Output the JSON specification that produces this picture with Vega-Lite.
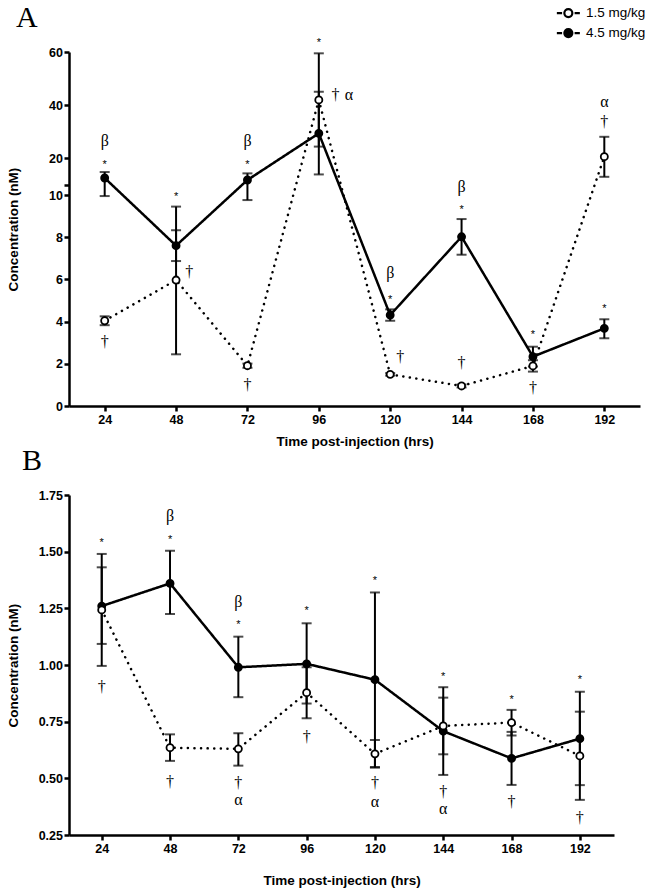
{
  "$schema": "https://vega.github.io/schema/vega-lite/v6.json",
  "background": "white",
  "padding": {"left": 6, "top": 2, "right": 3, "bottom": 3},
  "bounds": "flush",
  "spacing": 89,
  "resolve": {"scale": {"fill": "independent", "strokeDash": "independent"}, "legend": {"fill": "independent", "strokeDash": "independent"}},
  "config": {
    "font": "Liberation Sans",
    "view": {"stroke": null},
    "axis": {
      "domainColor": "black", "domainWidth": 2.5, "tickColor": "black", "tickWidth": 2.5, "tickSize": 5,
      "labelFont": "Liberation Sans", "labelFontWeight": "bold", "labelFontSize": 12.5, "labelColor": "black",
      "titleFont": "Liberation Sans", "titleFontWeight": "bold", "titleFontSize": 13.5, "titleColor": "black",
      "grid": false, "zindex": 0
    }
  },
  "datasets": {
    "A": [
      {"time": 24, "dose": "4.5 mg/kg", "value": 12.45, "lo": 9.95, "hi": 14.7},
      {"time": 48, "dose": "4.5 mg/kg", "value": 7.6, "lo": 6.87, "hi": 8.33},
      {"time": 72, "dose": "4.5 mg/kg", "value": 11.7, "lo": 9.76, "hi": 14.2},
      {"time": 96, "dose": "4.5 mg/kg", "value": 29.3, "lo": 13.8, "hi": 45.0},
      {"time": 120, "dose": "4.5 mg/kg", "value": 4.31, "lo": 4.04, "hi": 4.58},
      {"time": 144, "dose": "4.5 mg/kg", "value": 8.02, "lo": 7.17, "hi": 8.86},
      {"time": 168, "dose": "4.5 mg/kg", "value": 2.34, "lo": 1.87, "hi": 2.81},
      {"time": 192, "dose": "4.5 mg/kg", "value": 3.68, "lo": 3.21, "hi": 4.11},
      {"time": 24, "dose": "1.5 mg/kg", "value": 4.04, "lo": 3.83, "hi": 4.25},
      {"time": 48, "dose": "1.5 mg/kg", "value": 5.97, "lo": 2.45, "hi": 9.45},
      {"time": 72, "dose": "1.5 mg/kg", "value": 1.91, "lo": 1.81, "hi": 2.01},
      {"time": 96, "dose": "1.5 mg/kg", "value": 41.9, "lo": 24.3, "hi": 59.5},
      {"time": 120, "dose": "1.5 mg/kg", "value": 1.5, "lo": 1.44, "hi": 1.56},
      {"time": 144, "dose": "1.5 mg/kg", "value": 0.95, "lo": 0.88, "hi": 1.02},
      {"time": 168, "dose": "1.5 mg/kg", "value": 1.9, "lo": 1.63, "hi": 2.17},
      {"time": 192, "dose": "1.5 mg/kg", "value": 20.5, "lo": 12.9, "hi": 28.0}
    ],
    "annA": [
      {"time": 24, "y": 18.6, "label": "*"},
      {"time": 48, "y": 10.0001, "label": "*"},
      {"time": 72, "y": 18.6, "label": "*"},
      {"time": 96, "y": 64.5, "label": "*"},
      {"time": 120, "y": 5.17, "label": "*"},
      {"time": 144, "y": 9.45, "label": "*"},
      {"time": 168, "y": 3.52, "label": "*"},
      {"time": 192, "y": 4.74, "label": "*"},
      {"time": 24, "y": 26.5, "label": "β"},
      {"time": 72, "y": 26.5, "label": "β"},
      {"time": 120, "y": 6.29, "label": "β"},
      {"time": 144, "y": 10.0008, "label": "β"},
      {"time": 24, "y": 3.05, "label": "†"},
      {"time": 52.4, "y": 6.36, "label": "†"},
      {"time": 72, "y": 1.0, "label": "†"},
      {"time": 101.6, "y": 43.8, "label": "†"},
      {"time": 123.4, "y": 2.34, "label": "†"},
      {"time": 144, "y": 2.04, "label": "†"},
      {"time": 168, "y": 0.85, "label": "†"},
      {"time": 192, "y": 33.7, "label": "†"},
      {"time": 106.1, "y": 43.8, "label": "α"},
      {"time": 192, "y": 41.3, "label": "α"}
    ],
    "B": [
      {"time": 24, "dose": "4.5 mg/kg", "value": 1.26, "lo": 1.093, "hi": 1.431},
      {"time": 48, "dose": "4.5 mg/kg", "value": 1.36, "lo": 1.225, "hi": 1.504},
      {"time": 72, "dose": "4.5 mg/kg", "value": 0.99, "lo": 0.858, "hi": 1.125},
      {"time": 96, "dose": "4.5 mg/kg", "value": 1.005, "lo": 0.83, "hi": 1.184},
      {"time": 120, "dose": "4.5 mg/kg", "value": 0.935, "lo": 0.55, "hi": 1.32},
      {"time": 144, "dose": "4.5 mg/kg", "value": 0.708, "lo": 0.515, "hi": 0.902},
      {"time": 168, "dose": "4.5 mg/kg", "value": 0.588, "lo": 0.471, "hi": 0.705},
      {"time": 192, "dose": "4.5 mg/kg", "value": 0.675, "lo": 0.47, "hi": 0.882},
      {"time": 24, "dose": "1.5 mg/kg", "value": 1.243, "lo": 0.996, "hi": 1.49},
      {"time": 48, "dose": "1.5 mg/kg", "value": 0.635, "lo": 0.577, "hi": 0.694},
      {"time": 72, "dose": "1.5 mg/kg", "value": 0.63, "lo": 0.556, "hi": 0.699},
      {"time": 96, "dose": "1.5 mg/kg", "value": 0.878, "lo": 0.765, "hi": 0.99},
      {"time": 120, "dose": "1.5 mg/kg", "value": 0.608, "lo": 0.547, "hi": 0.669},
      {"time": 144, "dose": "1.5 mg/kg", "value": 0.731, "lo": 0.606, "hi": 0.856},
      {"time": 168, "dose": "1.5 mg/kg", "value": 0.746, "lo": 0.689, "hi": 0.802},
      {"time": 192, "dose": "1.5 mg/kg", "value": 0.599, "lo": 0.405, "hi": 0.794}
    ],
    "annB": [
      {"time": 24, "y": 1.55, "label": "*"},
      {"time": 48, "y": 1.566, "label": "*"},
      {"time": 72, "y": 1.191, "label": "*"},
      {"time": 96, "y": 1.25, "label": "*"},
      {"time": 120, "y": 1.383, "label": "*"},
      {"time": 144, "y": 0.96, "label": "*"},
      {"time": 168, "y": 0.86, "label": "*"},
      {"time": 192, "y": 0.946, "label": "*"},
      {"time": 48, "y": 1.657, "label": "β"},
      {"time": 72, "y": 1.277, "label": "β"},
      {"time": 24, "y": 0.904, "label": "†"},
      {"time": 48, "y": 0.485, "label": "†"},
      {"time": 72, "y": 0.481, "label": "†"},
      {"time": 96, "y": 0.684, "label": "†"},
      {"time": 120, "y": 0.478, "label": "†"},
      {"time": 144, "y": 0.441, "label": "†"},
      {"time": 168, "y": 0.397, "label": "†"},
      {"time": 192, "y": 0.324, "label": "†"},
      {"time": 72, "y": 0.405, "label": "α"},
      {"time": 120, "y": 0.397, "label": "α"},
      {"time": 144, "y": 0.363, "label": "α"}
    ]
  },
  "vconcat": [
    {
      "width": 571,
      "height": 354,
      "title": {"text": "A", "anchor": "start", "frame": "group", "font": "Liberation Serif", "fontSize": 30, "fontWeight": "normal", "color": "black", "dx": -53, "baseline": "alphabetic", "offset": -50.6},
      "encoding": {
        "x": {"field": "time", "type": "quantitative", "scale": {"domain": [12, 204], "nice": false, "zero": false},
          "axis": {"values": [24, 48, 72, 96, 120, 144, 168, 192], "format": "d", "title": "Time post-injection (hrs)", "labelPadding": 2, "titleY": 39, "titleBaseline": "alphabetic"}},
        "y": {"type": "quantitative", "scale": {"domain": [0, 10, 10.001, 60], "range": [354, 143, 132.5, 0], "nice": false, "zero": false},
          "axis": {"values": [0, 2, 4, 6, 8, 10, 10.001, 20, 40, 60], "labelExpr": "datum.value > 10 && datum.value < 11 ? '' : format(datum.value, 'd')", "title": "Concentration (nM)", "labelPadding": 1.5, "titleX": -52, "titleBaseline": "alphabetic"}}
      },
      "layer": [
        {
          "data": {"name": "A"},
          "mark": {"type": "line", "color": "black", "strokeWidth": 2.5, "strokeCap": "round"},
          "encoding": {
            "y": {"field": "value"},
            "strokeDash": {"field": "dose", "type": "nominal", "scale": {"domain": ["4.5 mg/kg", "1.5 mg/kg"], "range": [[1, 0], [0.1, 6.5]]}, "legend": null}
          }
        },
        {
          "data": {"name": "A"},
          "mark": {"type": "rule", "color": "black", "strokeWidth": 2},
          "encoding": {"y": {"field": "lo"}, "y2": {"field": "hi"}}
        },
        {
          "data": {"name": "A"},
          "mark": {"type": "tick", "orient": "horizontal", "color": "black", "size": 10, "thickness": 2},
          "encoding": {"y": {"field": "lo"}}
        },
        {
          "data": {"name": "A"},
          "mark": {"type": "tick", "orient": "horizontal", "color": "black", "size": 10, "thickness": 2},
          "encoding": {"y": {"field": "hi"}}
        },
        {
          "data": {"values": [{}]},
          "mark": {"type": "rect", "fill": "white"},
          "encoding": {"x": {"datum": 9}, "x2": {"datum": 207}, "y": {"datum": 10.0002}, "y2": {"datum": 10.0008}}
        },
        {
          "data": {"name": "A"},
          "mark": {"type": "point", "shape": "circle", "filled": true, "stroke": "black", "strokeWidth": 1.8, "size": 50, "opacity": 1},
          "encoding": {
            "y": {"field": "value"},
            "fill": {"field": "dose", "type": "nominal", "scale": {"domain": ["1.5 mg/kg", "4.5 mg/kg"], "range": ["white", "black"]},
              "legend": {"title": null, "orient": "none", "direction": "vertical", "legendX": 492.6, "legendY": -45.7, "padding": 0,
                "symbolSize": 100, "rowPadding": 2, "labelOffset": 11,
                "symbolType": "M-2.3,0L-1.25,0M1.25,0L2.3,0M0.8,0A0.8,0.8,0,1,1,-0.8,0A0.8,0.8,0,1,1,0.8,0",
                "labelFont": "Liberation Sans", "labelFontSize": 13.5, "labelColor": "black",
                "symbolStrokeColor": "black", "symbolStrokeWidth": 2.2}}
          }
        },
        {
          "data": {"name": "annA"},
          "transform": [{"filter": "datum.label === '*'"}],
          "mark": {"type": "text", "font": "Liberation Sans", "fontSize": 11, "baseline": "middle", "align": "center", "dy": 3, "color": "black"},
          "encoding": {"y": {"field": "y"}, "text": {"field": "label"}}
        },
        {
          "data": {"name": "annA"},
          "transform": [{"filter": "datum.label !== '*'"}],
          "mark": {"type": "text", "font": "Liberation Serif", "fontSize": 16, "baseline": "middle", "align": "center", "color": "black"},
          "encoding": {"y": {"field": "y"}, "text": {"field": "label"}}
        }
      ]
    },
    {
      "width": 545,
      "height": 340,
      "title": {"text": "B", "anchor": "start", "frame": "group", "font": "Liberation Serif", "fontSize": 30, "fontWeight": "normal", "color": "black", "dx": -47, "baseline": "alphabetic", "offset": -11},
      "encoding": {
        "x": {"field": "time", "type": "quantitative", "scale": {"domain": [12.5, 204], "nice": false, "zero": false},
          "axis": {"values": [24, 48, 72, 96, 120, 144, 168, 192], "format": "d", "title": "Time post-injection (hrs)", "labelPadding": 2, "titleY": 49, "titleBaseline": "alphabetic"}},
        "y": {"type": "quantitative", "scale": {"domain": [0.25, 1.75], "nice": false, "zero": false},
          "axis": {"values": [0.25, 0.5, 0.75, 1.0, 1.25, 1.5, 1.75], "format": ".2f", "title": "Concentration (nM)", "labelPadding": 1.5, "titleX": -52, "titleBaseline": "alphabetic"}}
      },
      "layer": [
        {
          "data": {"name": "B"},
          "mark": {"type": "line", "color": "black", "strokeWidth": 2.5, "strokeCap": "round"},
          "encoding": {
            "y": {"field": "value"},
            "strokeDash": {"field": "dose", "type": "nominal", "scale": {"domain": ["4.5 mg/kg", "1.5 mg/kg"], "range": [[1, 0], [0.1, 6.5]]}, "legend": null}
          }
        },
        {
          "data": {"name": "B"},
          "mark": {"type": "rule", "color": "black", "strokeWidth": 2},
          "encoding": {"y": {"field": "lo"}, "y2": {"field": "hi"}}
        },
        {
          "data": {"name": "B"},
          "mark": {"type": "tick", "orient": "horizontal", "color": "black", "size": 10, "thickness": 2},
          "encoding": {"y": {"field": "lo"}}
        },
        {
          "data": {"name": "B"},
          "mark": {"type": "tick", "orient": "horizontal", "color": "black", "size": 10, "thickness": 2},
          "encoding": {"y": {"field": "hi"}}
        },
        {
          "data": {"name": "B"},
          "mark": {"type": "point", "shape": "circle", "filled": true, "stroke": "black", "strokeWidth": 1.8, "size": 50, "opacity": 1},
          "encoding": {
            "y": {"field": "value"},
            "fill": {"field": "dose", "type": "nominal", "scale": {"domain": ["1.5 mg/kg", "4.5 mg/kg"], "range": ["white", "black"]}, "legend": null}
          }
        },
        {
          "data": {"name": "annB"},
          "transform": [{"filter": "datum.label === '*'"}],
          "mark": {"type": "text", "font": "Liberation Sans", "fontSize": 11, "baseline": "middle", "align": "center", "dy": 3, "color": "black"},
          "encoding": {"y": {"field": "y"}, "text": {"field": "label"}}
        },
        {
          "data": {"name": "annB"},
          "transform": [{"filter": "datum.label !== '*'"}],
          "mark": {"type": "text", "font": "Liberation Serif", "fontSize": 16, "baseline": "middle", "align": "center", "color": "black"},
          "encoding": {"y": {"field": "y"}, "text": {"field": "label"}}
        }
      ]
    }
  ]
}
